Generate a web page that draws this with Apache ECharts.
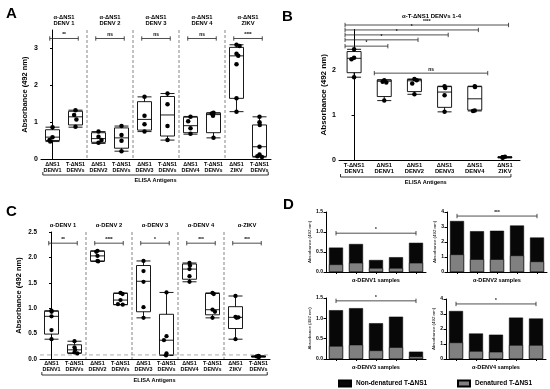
<!DOCTYPE html>
<html><head><meta charset="utf-8">
<script src="https://cdn.jsdelivr.net/npm/echarts@6/dist/echarts.min.js"></script>
<style>html,body{margin:0;padding:0;background:#fff}#c{width:550px;height:389px}</style>
</head><body><div id="c"></div>
<script>
const FONT = '"Liberation Sans", Arial, sans-serif';

// ---------------- Panel A ----------------
const catsA = ['ΔNS1\nDENV1','T-ΔNS1\nDENVs','ΔNS1\nDENV2','T-ΔNS1\nDENVs','ΔNS1\nDENV3','T-ΔNS1\nDENVs','ΔNS1\nDENV4','T-ΔNS1\nDENVs','ΔNS1\nZIKV','T-ΔNS1\nDENVs'];
const headersA = ['α-ΔNS1\nDENV 1','α-ΔNS1\nDENV 2','α-ΔNS1\nDENV 3','α-ΔNS1\nDENV 4','α-ΔNS1\nZIKV'];
const boxesA = [
  [0.48,0.51,0.60,0.80,0.87],
  [0.87,0.93,1.15,1.30,1.33],
  [0.43,0.46,0.56,0.72,0.75],
  [0.22,0.30,0.58,0.85,0.90],
  [0.75,0.79,1.08,1.56,1.69],
  [0.52,0.63,1.20,1.70,1.78],
  [0.68,0.72,0.91,1.14,1.16],
  [0.58,0.72,1.21,1.25,1.26],
  [1.29,1.65,2.80,3.03,3.10],
  [0.06,0.08,0.34,0.93,1.15]
];
const pointsA = [
  [0.87,0.60,0.52,0.48],
  [1.33,1.20,1.08,0.88],
  [0.75,0.61,0.52,0.45],
  [0.90,0.66,0.50,0.22],
  [1.69,1.18,0.95,0.75],
  [1.78,1.49,0.90,0.52],
  [1.15,1.03,0.84,0.69],
  [1.26,1.24,1.18,0.58],
  [3.10,3.07,2.86,2.80,2.57,1.65,1.29],
  [1.15,1.00,0.93,0.34,0.13,0.08,0.06]
];
const sigA = ['**','ns','ns','ns','****'];
const sigLevelA = 3.27;
const yTicksA = [0,1,2,3];

// ---------------- Panel B ----------------
const titleB = 'α-T-ΔNS1 DENVs 1-4';
const catsB = ['T-ΔNS1\nDENV1','ΔNS1\nDENV1','ΔNS1\nDENV2','ΔNS1\nDENV3','ΔNS1\nDENV4','ΔNS1\nZIKV'];
const boxesB = [
  [1.84,1.94,2.26,2.41,2.46],
  [1.32,1.41,1.75,1.78,1.78],
  [1.46,1.52,1.76,1.79,1.80],
  [1.07,1.17,1.51,1.63,1.64],
  [1.09,1.11,1.36,1.63,1.64],
  [0.05,0.05,0.06,0.07,0.07]
];
const pointsB = [
  [2.46,2.27,2.24,1.84],
  [1.77,1.74,1.72,1.32],
  [1.80,1.77,1.70,1.46],
  [1.64,1.60,1.44,1.07],
  [1.64,1.62,1.10,1.09],
  [0.07,0.06,0.06,0.05]
];
// comparisons of T-ΔNS1 DENV1 with each other antigen: [target category, level, label]
const sigB = [[1,2.53,'*'],[2,2.67,'*'],[3,2.78,'*'],[4,2.89,'*'],[5,3.00,'****']];
const nsB = [1,4,1.93,'ns'];
const yTicksB = [0,1,2];

// ---------------- Panel C ----------------
const catsC = catsA;
const headersC = ['α-DENV 1','α-DENV 2','α-DENV 3','α-DENV 4','α-ZIKV'];
const boxesC = [
  [0.39,0.49,0.84,0.94,0.95],
  [0.11,0.12,0.18,0.28,0.35],
  [1.92,1.93,2.03,2.12,2.13],
  [1.07,1.07,1.16,1.29,1.30],
  [0.81,0.93,1.53,1.84,1.93],
  [0.07,0.08,0.37,0.88,1.31],
  [1.52,1.57,1.77,1.87,1.89],
  [0.81,0.87,0.97,1.29,1.30],
  [0.39,0.60,0.82,1.03,1.24],
  [0.04,0.04,0.05,0.06,0.06]
];
const pointsC = [
  [0.95,0.93,0.84,0.57,0.39],
  [0.35,0.23,0.18,0.13,0.11],
  [2.13,2.11,2.03,1.93,1.92],
  [1.30,1.28,1.16,1.08,1.07],
  [1.93,1.73,1.52,1.02,0.81],
  [1.31,0.45,0.37,0.11,0.07],
  [1.89,1.84,1.77,1.63,1.52],
  [1.30,1.28,0.97,0.93,0.81],
  [1.24,0.83,0.82,0.81,0.39],
  [0.06,0.05,0.05,0.04,0.04]
];
const sigC = ['**','****','*','***','***'];
const sigLevelC = 2.28;
const cutoffC = 0.08;

// ---------------- Panel D ----------------
const samplesD = ['1','2','3','4','5'];
const namesD = ['α-DENV1 samples','α-DENV2 samples','α-DENV3 samples','α-DENV4 samples'];
const nonDenD = [
  [0.61,0.70,0.30,0.37,0.73],
  [3.40,2.72,2.75,3.10,2.30],
  [1.20,1.25,0.88,1.04,0.18],
  [3.20,1.70,1.62,2.76,2.70]
];
const denD = [
  [0.19,0.23,0.10,0.10,0.23],
  [1.17,0.85,0.85,1.10,0.70],
  [0.32,0.35,0.21,0.29,0.06],
  [1.10,0.53,0.48,0.93,0.93]
];
const yMaxD = [1.5,4,1.5,4];
const yStepD = [0.5,1,0.5,1];
const sigD = [[0.97,'*'],[3.73,'***'],[1.43,'*'],[3.67,'*']];
const legendNames = ['Non-denatured T-ΔNS1','Denatured T-ΔNS1'];

// ================= chart =================
const grids = [
  {left:41, top:30, width:230, height:129.3},
  {left:339, top:29.5, width:181, height:130.5},
  {left:40, top:232, width:230, height:127},
  {left:326, top:212, width:100, height:60},
  {left:447, top:212, width:100, height:60},
  {left:326, top:298, width:100, height:61},
  {left:446, top:299, width:100, height:60}
];
const axLine = {show:true, lineStyle:{color:'#000', width:1}};
function catAxis(gi, cats, fs){
  return {type:'category', gridIndex:gi, data:cats.map((c,i)=>String(i)),
    jitter:7, jitterOverlap:false, jitterMargin:0.5,
    axisLine:axLine, axisTick:{show:false},
    axisLabel:{formatter:v=>cats[+v], fontSize:fs, lineHeight:fs+0.6, fontWeight:'bold', fontFamily:FONT, color:'#000', margin:2, interval:0},
    splitLine:{show:false}};
}
function hidValAxis(gi, n){ return {type:'value', gridIndex:gi, min:-0.5, max:n-0.5, show:false}; }
function valAxis(gi, max, ticks, fs, name, nameGap, nameFs, fmt){
  return {type:'value', gridIndex:gi, min:0, max:max,
    axisLine:axLine, splitLine:{show:false},
    axisTick:{show:true, length:2.5, customValues:ticks, lineStyle:{color:'#000'}},
    axisLabel:{customValues:ticks, fontSize:fs, fontWeight:'bold', fontFamily:FONT, color:'#000', margin:3, formatter:fmt||(v=>String(v))},
    name:name, nameLocation:'middle', nameGap:nameGap, nameRotate:90,
    nameTextStyle:{fontSize:nameFs, fontWeight:'bold', fontFamily:FONT, color:'#000'}};
}
function flatPts(pts){ const out=[]; pts.forEach((arr,i)=>arr.forEach(v=>out.push([i,v]))); return out; }

const xAxes = [
  catAxis(0, catsA, 5.4), hidValAxis(0, catsA.length),
  catAxis(1, catsB, 5.8), hidValAxis(1, catsB.length),
  catAxis(2, catsC, 5.4), hidValAxis(2, catsC.length)
];
const yAxes = [
  valAxis(0, 3.5, yTicksA, 7, 'Absorbance (492 nm)', 12, 7.5),
  valAxis(1, 2.9, yTicksB, 7, 'Absorbance (492 nm)', 8, 8),
  valAxis(2, 2.5, [0,0.5,1,1.5,2,2.5], 6.3, 'Absorbance (492 nm)', 17, 7.5, v=>v.toFixed(1))
];
for(let k=0;k<4;k++){
  xAxes.push({type:'category', gridIndex:3+k, data:samplesD,
    axisLine:axLine, axisTick:{show:true, length:2, alignWithLabel:true, lineStyle:{color:'#000'}},
    axisLabel:{show:false},
    name:namesD[k], nameLocation:'middle', nameGap:5,
    nameTextStyle:{fontSize:5.6, fontWeight:'bold', fontFamily:FONT, color:'#000', verticalAlign:'top'}});
  const ticks=[]; for(let v=0; v<=yMaxD[k]+1e-9; v+=yStepD[k]) ticks.push(+v.toFixed(2));
  yAxes.push(valAxis(3+k, yMaxD[k], ticks, 5, 'Absorbance (492 nm)', 10, 4.4,
    yStepD[k]<1 ? (v=>v.toFixed(1)) : (v=>String(v))));
  yAxes[yAxes.length-1].nameTextStyle.fontWeight='normal';
}

function txt(text, x, y, fs, align, valign, weight){
  return {type:'text', style:{text:text, x:x, y:y, font:(weight||'bold')+' '+fs+'px '+FONT, fill:'#000', align:align||'center', verticalAlign:valign||'bottom', lineHeight:fs+0.8}};
}
function ln(x1,y1,x2,y2,stroke,w,dash){
  return {type:'line', shape:{x1:x1,y1:y1,x2:x2,y2:y2}, style:{stroke:stroke||'#000', lineWidth:w||0.8, lineDash:dash||null}};
}
function sigBar(ch, xa, xb, y, label, fs){
  ch.push(ln(xa,y,xb,y,'#222',0.8));
  ch.push(ln(xa,y-2.2,xa,y+2.2,'#222',0.8));
  ch.push(ln(xb,y-2.2,xb,y+2.2,'#222',0.8));
  ch.push(txt(label,(xa+xb)/2,y-0.8,fs||5,'center','bottom'));
}
function bracket(ch, xa, xb, y){
  ch.push({type:'polyline', shape:{points:[[xa,y-3],[xa,y],[xb,y],[xb,y-3]]}, style:{stroke:'#000', lineWidth:0.8, fill:null}});
  ch.push(txt('ELISA Antigens',(xa+xb)/2,y+2.5,5.6,'center','top'));
}
function groupAnno(o){
  return function(params, api){
    const ch=[];
    const P=(x,y)=>api.coord([x,y]);
    const yb=P(0,0)[1], yt=P(0,o.ymax)[1];
    const n=o.cats.length;
    for(let g=1; g<o.headers.length; g++){
      const x=P(2*g-0.5,0)[0];
      ch.push(ln(x,yt,x,yb,'#666',0.8,[3,2]));
    }
    if(o.cutoff!=null){
      const y=P(0,o.cutoff)[1];
      ch.push(ln(P(-0.5,0)[0],y,P(n-0.5,0)[0],y,'#999',0.8,[4,3]));
    }
    o.sig.forEach((s,g)=>{
      const y=P(0,o.sigY)[1];
      sigBar(ch, P(2*g-0.12,0)[0], P(2*g+1.12,0)[0], y, s, 4.8);
    });
    o.headers.forEach((h,g)=>{
      ch.push(txt(h, P(2*g+0.5,0)[0], yt-o.headerOff, 5.8, 'center', 'bottom'));
    });
    bracket(ch, P(-0.42,0)[0], P(n-0.62,0)[0], yb+o.brDy);
    return {type:'group', children:ch};
  };
}
function annoB(params, api){
  const ch=[];
  const P=(x,y)=>api.coord([x,y]);
  const yb=P(0,0)[1];
  sigB.forEach(s=>{ sigBar(ch, P(-0.3,0)[0], P(s[0]+0.12,0)[0], P(0,s[1])[1], s[2], 4.8); });
  sigBar(ch, P(nsB[0]-0.33,0)[0], P(nsB[1]+0.43,0)[0], P(0,nsB[2])[1], nsB[3], 4.8);
  bracket(ch, P(-0.45,0)[0], P(catsB.length-0.8,0)[0], yb+17);
  ch.push(txt(titleB, P(2.5,0)[0]+2, P(0,2.9)[1]-13, 6, 'center', 'middle'));
  return {type:'group', children:ch};
}
function annoD(k){
  return function(params, api){
    const ch=[];
    const y=api.coord([0,sigD[k][0]])[1];
    sigBar(ch, api.coord([0,0])[0], api.coord([4,0])[0], y, sigD[k][1], 4.6);
    return {type:'group', children:ch};
  };
}

const series = [];
function boxSeries(xi, yi, data){
  return {type:'boxplot', xAxisIndex:xi, yAxisIndex:yi, data:data, boxWidth:[14,14], silent:true,
    itemStyle:{color:'#fff', borderColor:'#000', borderWidth:0.9}};
}
function ptSeries(xi, yi, pts, size){
  return {type:'scatter', xAxisIndex:xi, yAxisIndex:yi, data:flatPts(pts), symbolSize:size, silent:true,
    itemStyle:{color:'#000', opacity:1}, z:5};
}
series.push(boxSeries(0,0,boxesA), ptSeries(0,0,pointsA,4.5));
series.push(boxSeries(2,1,boxesB), ptSeries(2,1,pointsB,4.5));
series.push(boxSeries(4,2,boxesC), ptSeries(4,2,pointsC,4.3));
series.push({type:'custom', xAxisIndex:1, yAxisIndex:0, data:[[0,0]], clip:false, silent:true, z:3,
  renderItem:groupAnno({cats:catsA, headers:headersA, sig:sigA, sigY:sigLevelA, ymax:3.5, headerOff:3, brDy:15.7, cutoff:null})});
series.push({type:'custom', xAxisIndex:3, yAxisIndex:1, data:[[0,0]], clip:false, silent:true, z:3, renderItem:annoB});
series.push({type:'custom', xAxisIndex:5, yAxisIndex:2, data:[[0,0]], clip:false, silent:true, z:3,
  renderItem:groupAnno({cats:catsC, headers:headersC, sig:sigC, sigY:sigLevelC, ymax:2.5, headerOff:3, brDy:16, cutoff:cutoffC})});
for(let k=0;k<4;k++){
  series.push({type:'bar', name:legendNames[0], xAxisIndex:6+k, yAxisIndex:3+k, data:nonDenD[k], barWidth:14, silent:true,
    itemStyle:{color:'#080808', borderColor:'#000', borderWidth:0.5}});
  series.push({type:'bar', name:legendNames[1], xAxisIndex:6+k, yAxisIndex:3+k, data:denD[k], barWidth:14, barGap:'-100%', silent:true,
    itemStyle:{color:'#808080', borderColor:'#000', borderWidth:0.5}});
  series.push({type:'custom', xAxisIndex:6+k, yAxisIndex:3+k, data:[[0,0]], clip:false, silent:true, z:3, renderItem:annoD(k)});
}

const letter = (t,x,y)=>({type:'text', left:x, top:y, style:{text:t, font:'bold 15px '+FONT, fill:'#000'}});
const legendText = {fontSize:6.5, fontWeight:'bold', fontFamily:FONT, color:'#000'};
const option = {
  animation:false,
  backgroundColor:'#fff',
  grid:grids,
  xAxis:xAxes,
  yAxis:yAxes,
  series:series,
  legend:[
    {data:[legendNames[0]], left:338, top:379.5, itemWidth:12, itemHeight:6, padding:0, icon:'rect', selectedMode:false, textStyle:legendText},
    {data:[legendNames[1]], left:457, top:379.5, itemWidth:12, itemHeight:6, padding:0, icon:'rect', selectedMode:false, textStyle:legendText}
  ],
  graphic:[letter('A',6,6), letter('B',282,9), letter('C',6,204), letter('D',283,197)]
};
const chart = echarts.init(document.getElementById('c'), null, {renderer:'canvas'});
chart.setOption(option);
</script></body></html>
